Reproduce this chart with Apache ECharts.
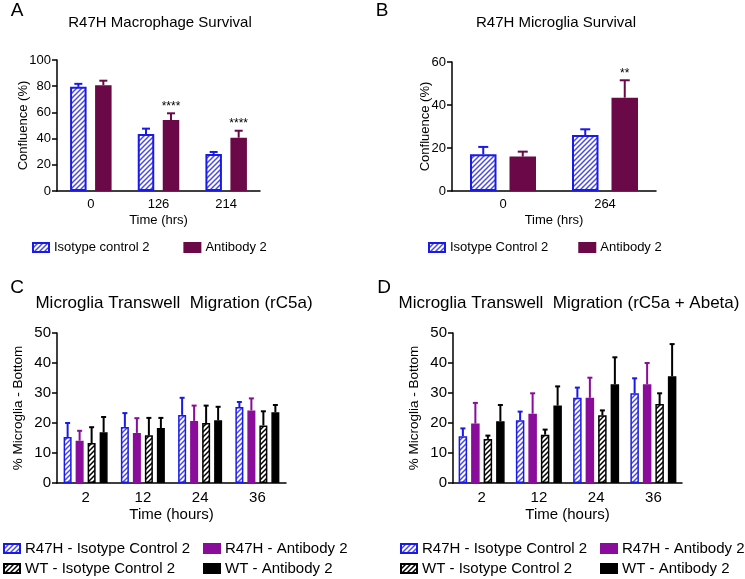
<!DOCTYPE html>
<html><head><meta charset="utf-8">
<script src="https://cdn.jsdelivr.net/npm/echarts@6/dist/echarts.min.js"></script>
<style>html,body{margin:0;padding:0;background:#fff}#c{width:745px;height:579px}</style>
</head><body><div id="c"></div>
<script>
// ---- Panel A: R47H Macrophage Survival ----
const catsA = ['0', '126', '214'];
const isoA = [79.5, 43.5, 28.2];
const isoAErr = [2.3, 4.1, 1.6];
const abA = [80.8, 54.2, 40.7];
const abAErr = [3.4, 5.1, 5.3];
const sigA = ['', '****', '****'];
const yTicksA = [0, 20, 40, 60, 80, 100];

// ---- Panel B: R47H Microglia Survival ----
const catsB = ['0', '264'];
const isoB = [17.1, 26.0];
const isoBErr = [3.4, 2.7];
const abB = [16.0, 43.4];
const abBErr = [2.3, 8.1];
const sigB = ['', '**'];
const yTicksB = [0, 20, 40, 60];

// ---- Panel C: Microglia Transwell Migration (rC5a) ----
const catsC = ['2', '12', '24', '36'];
const r47hIsoC = [15.3, 18.7, 22.7, 25.3];
const r47hIsoCErr = [4.7, 4.6, 5.7, 1.7];
const r47hAbC = [14.1, 16.7, 20.7, 24.2];
const r47hAbCErr = [3.3, 4.9, 5.1, 4.0];
const wtIsoC = [13.3, 15.9, 20.0, 19.2];
const wtIsoCErr = [5.3, 5.8, 5.8, 4.7];
const wtAbC = [16.9, 18.3, 20.9, 23.6];
const wtAbCErr = [5.1, 3.4, 4.5, 2.4];

// ---- Panel D: Microglia Transwell Migration (rC5a + Abeta) ----
const catsD = ['2', '12', '24', '36'];
const r47hIsoD = [15.6, 20.9, 28.4, 29.9];
const r47hIsoDErr = [2.6, 2.9, 3.4, 5.0];
const r47hAbD = [19.8, 23.1, 28.4, 32.9];
const r47hAbDErr = [6.9, 6.8, 6.7, 7.1];
const wtIsoD = [14.7, 16.1, 22.6, 26.3];
const wtIsoDErr = [1.1, 1.7, 1.6, 3.6];
const wtAbD = [20.6, 25.8, 32.9, 35.6];
const wtAbDErr = [5.4, 6.4, 9.0, 10.7];
const yTicksCD = [0, 10, 20, 30, 40, 50];

// ---- names ----
const nameIsoA = 'Isotype control 2', nameAbA = 'Antibody 2';
const nameIsoB = 'Isotype Control 2', nameAbB = 'Antibody 2 ';
const nR47HIso = 'R47H - Isotype Control 2', nR47HAb = 'R47H - Antibody 2';
const nWTIso = 'WT - Isotype Control 2', nWTAb = 'WT - Antibody 2';

// ---- styles ----
const FONT = '"Liberation Sans", Arial, Helvetica, sans-serif';
const BLUE = '#1a1ae6', MAROON = '#6a0848', PURPLE = '#8a0c9a', BLACK = '#000000';

function hatch(lineColor, bg) {
  const s = 5;
  const cv = document.createElement('canvas');
  cv.width = s; cv.height = s;
  const g = cv.getContext('2d');
  g.fillStyle = bg; g.fillRect(0, 0, s, s);
  g.strokeStyle = lineColor; g.lineWidth = 1.5;
  g.beginPath();
  g.moveTo(-1, s + 1); g.lineTo(s + 1, -1);
  g.moveTo(-1, 1); g.lineTo(1, -1);
  g.moveTo(s - 1, s + 1); g.lineTo(s + 1, s - 1);
  g.stroke();
  return { image: cv, repeat: 'repeat' };
}
const blueHatch = hatch('#4a4ae6', '#ffffff');
const blackHatch = hatch('#000000', '#ffffff');

function offsets(n, w, gap) {
  const total = n * w + (n - 1) * gap;
  const out = [];
  for (let i = 0; i < n; i++) out.push(-total / 2 + w / 2 + i * (w + gap));
  return out;
}

function barSeries(name, gi, vals, w, gap, fill, border, bw) {
  return {
    name, type: 'bar', xAxisIndex: gi, yAxisIndex: gi, data: vals,
    barWidth: w, barGap: (gap / w * 100) + '%',
    itemStyle: { color: fill, borderColor: border, borderWidth: bw },
    emphasis: { disabled: true }, z: 2, silent: true
  };
}

function errSeries(gi, vals, errs, off, capW, color, lw, sig, sigSize) {
  return {
    type: 'custom', xAxisIndex: gi, yAxisIndex: gi, z: 3, silent: true,
    data: vals.map((v, i) => [i, v, errs[i]]),
    renderItem: function (params, api) {
      const b = api.coord([api.value(0), api.value(1)]);
      const t = api.coord([api.value(0), api.value(1) + api.value(2)]);
      const x = b[0] + off;
      const ch = [
        { type: 'line', shape: { x1: x, y1: b[1], x2: x, y2: t[1] }, style: { stroke: color, lineWidth: lw } },
        { type: 'line', shape: { x1: x - capW / 2, y1: t[1], x2: x + capW / 2, y2: t[1] }, style: { stroke: color, lineWidth: lw } }
      ];
      const s = sig ? sig[params.dataIndex] : '';
      if (s) {
        ch.push({ type: 'text', x: x, y: t[1] - 1,
          style: { text: s, fill: '#000', font: sigSize + 'px ' + FONT, textAlign: 'center', textVerticalAlign: 'bottom' } });
      }
      return { type: 'group', children: ch };
    }
  };
}

// layout
const gridsPx = [
  { left: 57, top: 60, width: 203, height: 131 },
  { left: 452, top: 62, width: 204, height: 129 },
  { left: 57, top: 333, width: 229, height: 150 },
  { left: 453, top: 333, width: 229, height: 150 }
];
const wA = 16.5, gA = 8.5, wB = 26.5, gB = 13, wC = 8, gC = 4, wD = 8.5, gD = 4;
const oA = offsets(2, wA, gA), oB = offsets(2, wB, gB), oC = offsets(4, wC, gC), oD = offsets(4, wD, gD);

function xAxis(gi, cats, fs, margin, name, nameGap) {
  return {
    type: 'category', gridIndex: gi, data: cats,
    axisLine: { lineStyle: { color: '#000', width: 1.5 } },
    axisTick: { alignWithLabel: true, length: 5, lineStyle: { color: '#000', width: 1.5 } },
    axisLabel: { color: '#000', fontSize: fs, fontFamily: FONT, margin: margin },
    name: name, nameLocation: 'middle', nameGap: nameGap, nameMoveOverlap: false,
    nameTextStyle: { color: '#000', fontSize: fs, fontFamily: FONT }
  };
}
function yAxis(gi, ticks, fs, name, nameGap, nfs) {
  return {
    type: 'value', gridIndex: gi, min: ticks[0], max: ticks[ticks.length - 1], interval: ticks[1] - ticks[0],
    axisLine: { show: true, lineStyle: { color: '#000', width: 1.5 } },
    axisTick: { show: true, length: 5, lineStyle: { color: '#000', width: 1.5 } },
    axisLabel: { color: '#000', fontSize: fs, fontFamily: FONT, margin: 6 },
    splitLine: { show: false },
    name: name, nameLocation: 'middle', nameGap: nameGap, nameMoveOverlap: false,
    nameTextStyle: { color: '#000', fontSize: nfs, fontFamily: FONT }
  };
}

function legend(names, left, top, fs, w, h, gap, orient) {
  return {
    data: names, left: left, top: top, orient: orient || 'horizontal', itemGap: gap,
    itemWidth: w, itemHeight: h, icon: 'rect', padding: 0, selectedMode: false,
    textStyle: { color: '#000', fontSize: fs, fontFamily: FONT }
  };
}

function txt(s, x, y, size) {
  return { type: 'text', x: x, y: y, silent: true,
    style: { text: s, fill: '#000', font: size + 'px ' + FONT, textAlign: 'center', textVerticalAlign: 'middle' } };
}

const option = {
  animation: false,
  backgroundColor: '#fff',
  grid: gridsPx,
  xAxis: [
    xAxis(0, catsA, 13, 7, 'Time (hrs)', 22.5),
    xAxis(1, catsB, 13, 7, 'Time (hrs)', 22.5),
    xAxis(2, catsC, 15, 7.5, 'Time (hours)', 24.5),
    xAxis(3, catsD, 15, 7.5, 'Time (hours)', 24.5)
  ],
  yAxis: [
    yAxis(0, yTicksA, 13, 'Confluence (%)', 27.5, 13),
    yAxis(1, yTicksB, 13, 'Confluence (%)', 20.5, 13),
    yAxis(2, yTicksCD, 15, '% Microglia - Bottom', 31.5, 13.5),
    yAxis(3, yTicksCD, 15, '% Microglia - Bottom', 31.5, 13.5)
  ],
  legend: [
    legend([nameIsoA, nameAbA], 32, 241, 13, 16, 9, 34),
    legend([nameIsoB, nameAbB], 428, 241, 13, 16, 9, 30),
    legend([nR47HIso, nWTIso], 3, 541, 15, 16, 9, 5, 'vertical'),
    legend([nR47HAb, nWTAb], 203, 541, 15, 16, 9, 5, 'vertical'),
    legend([nR47HIso, nWTIso], 400, 541, 15, 16, 9, 5, 'vertical'),
    legend([nR47HAb, nWTAb], 600, 541, 15, 16, 9, 5, 'vertical')
  ],
  graphic: [
    txt('A', 17, 11, 19), txt('B', 382, 11, 19), txt('C', 17, 288, 19), txt('D', 384, 288, 19),
    txt('R47H Macrophage Survival', 160, 23, 15),
    txt('R47H Microglia Survival', 556, 23, 15),
    txt('Microglia Transwell  Migration (rC5a)', 174, 303, 17),
    txt('Microglia Transwell  Migration (rC5a + Abeta)', 569, 303, 17)
  ],
  series: [
    barSeries(nameIsoA, 0, isoA, wA, gA, blueHatch, BLUE, 2),
    barSeries(nameAbA, 0, abA, wA, gA, MAROON, MAROON, 2),
    errSeries(0, isoA, isoAErr, oA[0], 8, BLUE, 2),
    errSeries(0, abA, abAErr, oA[1], 8, MAROON, 2, sigA, 12),

    barSeries(nameIsoB, 1, isoB, wB, gB, blueHatch, BLUE, 2),
    barSeries(nameAbB, 1, abB, wB, gB, MAROON, MAROON, 2),
    errSeries(1, isoB, isoBErr, oB[0], 10, BLUE, 2),
    errSeries(1, abB, abBErr, oB[1], 10, MAROON, 2, sigB, 12),

    barSeries(nR47HIso, 2, r47hIsoC, wC, gC, blueHatch, BLUE, 1.5),
    barSeries(nR47HAb, 2, r47hAbC, wC, gC, PURPLE, PURPLE, 1.5),
    barSeries(nWTIso, 2, wtIsoC, wC, gC, blackHatch, BLACK, 1.5),
    barSeries(nWTAb, 2, wtAbC, wC, gC, BLACK, BLACK, 1.5),
    errSeries(2, r47hIsoC, r47hIsoCErr, oC[0], 5, BLUE, 2),
    errSeries(2, r47hAbC, r47hAbCErr, oC[1], 5, PURPLE, 2),
    errSeries(2, wtIsoC, wtIsoCErr, oC[2], 5, BLACK, 2),
    errSeries(2, wtAbC, wtAbCErr, oC[3], 5, BLACK, 2),

    barSeries(nR47HIso, 3, r47hIsoD, wD, gD, blueHatch, BLUE, 1.5),
    barSeries(nR47HAb, 3, r47hAbD, wD, gD, PURPLE, PURPLE, 1.5),
    barSeries(nWTIso, 3, wtIsoD, wD, gD, blackHatch, BLACK, 1.5),
    barSeries(nWTAb, 3, wtAbD, wD, gD, BLACK, BLACK, 1.5),
    errSeries(3, r47hIsoD, r47hIsoDErr, oD[0], 5, BLUE, 2),
    errSeries(3, r47hAbD, r47hAbDErr, oD[1], 5, PURPLE, 2),
    errSeries(3, wtIsoD, wtIsoDErr, oD[2], 5, BLACK, 2),
    errSeries(3, wtAbD, wtAbDErr, oD[3], 5, BLACK, 2)
  ]
};
const chart = echarts.init(document.getElementById('c'), null, { renderer: 'canvas' });
chart.setOption(option);
</script></body></html>
